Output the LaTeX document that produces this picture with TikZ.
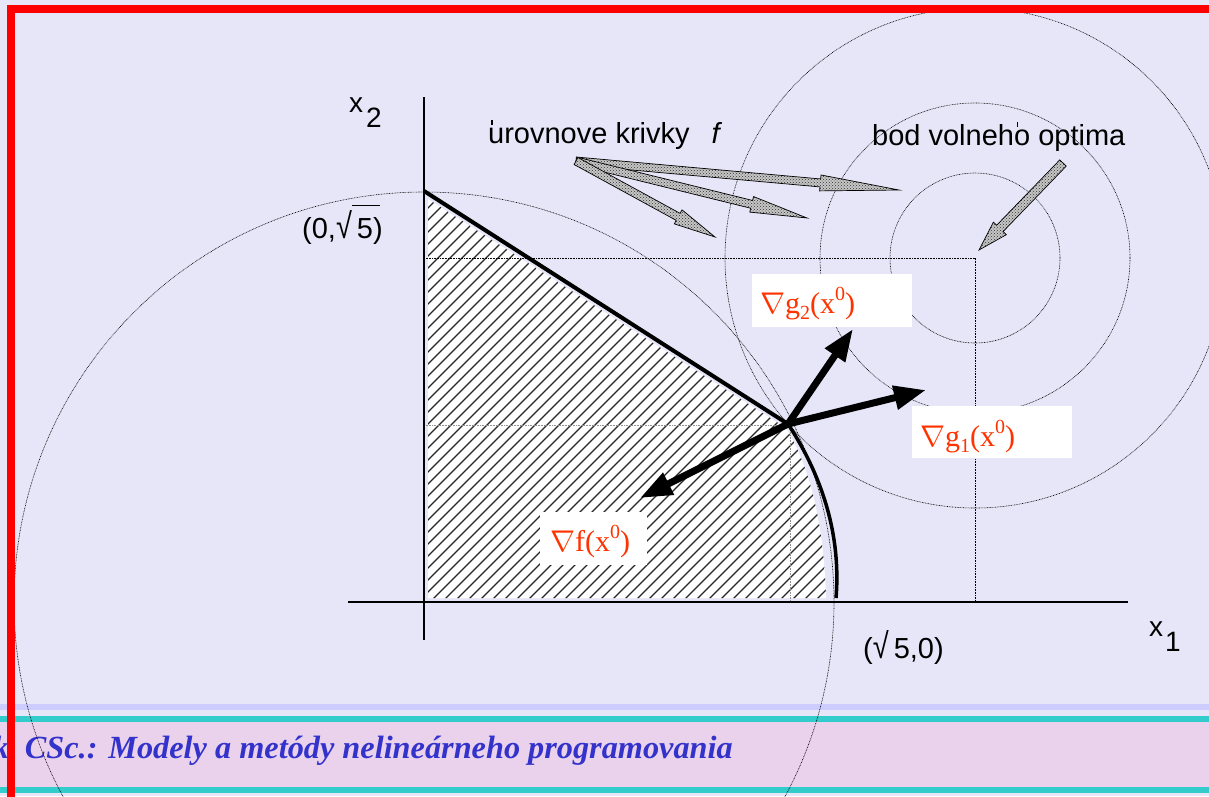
\documentclass[tikz,border=0pt]{standalone}
\usepackage{fix-cm}
\usepackage{fontspec}
\setmainfont{Liberation Sans}
\newfontfamily\tnr{Liberation Serif}
\usetikzlibrary{arrows.meta,patterns,calc}
\definecolor{bgc}{RGB}{230,230,248}
\definecolor{lblred}{RGB}{255,51,0}
\definecolor{bandlight}{RGB}{204,204,255}
\definecolor{tealband}{RGB}{51,204,204}
\definecolor{pinkband}{RGB}{235,210,236}
\definecolor{bannerblue}{RGB}{51,51,204}
\tikzset{
  levelcurve/.style={draw=black, line width=0.6pt, dash pattern=on 0.8pt off 0.8pt},
  guide/.style={draw=black, line width=0.6pt, dash pattern=on 0.8pt off 0.8pt},
  guidegray/.style={draw=black!45, line width=0.6pt, dash pattern=on 0.8pt off 0.8pt},
  axisline/.style={draw=black, line width=2pt},
  gradarrow/.style={draw=black, line width=7pt, -{Triangle[length=32pt,width=23pt]}},
  hatchline/.style={draw=black!85, line width=1.3pt},
  lbl/.style={inner sep=0pt, anchor=base west, font=\fontsize{29}{34}\selectfont},
  axlbl/.style={inner sep=0pt, anchor=base west, font=\fontsize{28}{32}\selectfont},
  whitebox/.style={fill=white, draw=none, inner sep=0pt, anchor=north west},
  redlbl/.style={inner sep=0pt, anchor=base west, text=lblred, font=\fontsize{30}{34}\selectfont\tnr},
  bannertext/.style={inner sep=0pt, anchor=base east, text=bannerblue, font=\fontsize{32.3}{36}\selectfont\tnr\bfseries\itshape},
  blockarrow/.style={draw=black, line width=0.7pt, preaction={fill=gray!45}, pattern=crosshatch dots, pattern color=black!80},
}
\newcommand{\blockarr}[5]{%
  \pgfpointdiff{\pgfpointanchor{#1}{center}}{\pgfpointanchor{#2}{center}}%
  \pgfgetlastxy{\bax}{\bay}%
  \pgfmathsetmacro{\balen}{veclen(\bax,\bay)}%
  \pgfmathsetmacro{\baang}{atan2(\bay,\bax)}%
  \draw[blockarrow, shift={(#1)}, rotate=\baang]
    (0pt,#3) -- ({\balen pt-#5},#3) -- ({\balen pt-#5},#4) -- ({\balen pt},0pt)
    -- ({\balen pt-#5},-#4) -- ({\balen pt-#5},-#3) -- (0pt,-#3) -- cycle;
}
\newcommand{\radic}{\scalebox{1}[1.22]{√}}
\newcommand{\rtfivebar}{\radic\makebox[0pt][l]{\raisebox{1.1em}{\rule{0.95em}{1.2pt}}}\kern5pt 5}
\newcommand{\rtfive}{\radic\kern5pt 5}
\newcommand{\tick}{\rlap{\kern0.1em\rule[0.62em]{0.05em}{0.16em}}}
\newcommand{\subsz}[1]{\raisebox{-0.22em}{\fontsize{20}{22}\selectfont #1}}
\newcommand{\supsz}[1]{\raisebox{0.42em}{\fontsize{20}{22}\selectfont #1}}

\begin{document}
\begin{tikzpicture}[x=1pt,y=-1pt]
\useasboundingbox (0,0) rectangle (1209,796);
\clip (0,0) rectangle (1209,796);
\fill[bgc] (0,0) rectangle (1209,796);
% footer bands
\fill[bandlight] (0,704) rectangle (1209,710);
\fill[tealband] (0,716) rectangle (1209,722);
\fill[pinkband] (0,722) rectangle (1209,787);
\fill[tealband] (0,787) rectangle (1209,793);
\node[bannertext] (banner) at (733,758) {k, CSc.: Modely a metódy nelineárneho programovania};

% key points
\coordinate (O) at (424,602);
\coordinate (P0) at (424,191);
\coordinate (x0) at (788,424);
\coordinate (opt) at (975,258);
\coordinate (g2tip) at (853,329);
\coordinate (g1tip) at (926,390);
\coordinate (ftip) at (640,498);
\coordinate (bcEnd) at (836,598);

% hatched feasible region
\fill[white] (428,199) -- (786,428) .. controls (812,470) and (824,530) .. (826,598) -- (428,598) -- cycle;
\begin{scope}
  \clip (428,199) -- (786,428) .. controls (812,470) and (824,530) .. (826,598) -- (428,598) -- cycle;
  \foreach \i in {24,36,...,1000} \draw[hatchline] (\i,600) -- (\i+400,200);
\end{scope}

% guide lines
\coordinate (gA) at (424,425);
\coordinate (gB) at (790,425);
\coordinate (gC) at (790,600);
\coordinate (gD) at (424,258);
\coordinate (gE) at (975,600);
\draw[guidegray] (gA) -- (gB) -- (gC);
\draw[guide] (gD) -- (opt) -- (gE);

% circles
\draw[levelcurve] (O) circle[radius=410pt];
\draw[levelcurve] (opt) circle[radius=85pt];
\draw[levelcurve] (opt) circle[radius=155pt];
\draw[levelcurve] (opt) circle[radius=250pt];

% axes
\coordinate (ax2a) at (424,97);
\coordinate (ax2b) at (424,640);
\coordinate (ax1a) at (348,602);
\coordinate (ax1b) at (1128,602);
\draw[axisline] (ax2a) -- (ax2b);
\draw[axisline] (ax1a) -- (ax1b);

% constraint boundaries
\draw[line width=4pt] (P0) -- (x0);
\draw[line width=3.5pt] (x0) .. controls (815,465) and (842,525) .. (bcEnd);

% gradients
\draw[gradarrow] (x0) -- (g2tip);
\draw[gradarrow] (x0) -- (g1tip);
\draw[gradarrow] (x0) -- (ftip);

% block arrows
\coordinate (ukS) at (576,161);
\coordinate (uk1) at (899,190);
\coordinate (uk2) at (807,218);
\coordinate (uk3) at (715,237);
\blockarr{ukS}{uk1}{4pt}{8pt}{79pt}
\blockarr{ukS}{uk2}{4pt}{8pt}{57pt}
\blockarr{ukS}{uk3}{4pt}{8pt}{42pt}
\coordinate (bS) at (1063,163);
\coordinate (bT) at (979,250);
\blockarr{bS}{bT}{4.5pt}{9pt}{30pt}

% texts
\node[axlbl] (tx2) at (349,112) {x\hspace{3pt}\raisebox{-15pt}{2}};
\node[axlbl] (tx1) at (1149,636) {x\hspace{2pt}\raisebox{-15pt}{1}};
\node[lbl] (turov) at (488,143) {\tick urovnove krivky\hspace{22pt}\textit{f}};
\node[lbl] (tbod) at (872,145) {bod volneh\tick o optima};
\node[lbl] (tp0) at (302,238) {(0,\rtfivebar)};
\node[lbl] (tp1) at (863,658) {(\rtfive,0)};

% gradient labels
\node[whitebox, minimum width=160pt, minimum height=53pt] (bxg2) at (752,274) {};
\node[whitebox, minimum width=160pt, minimum height=52pt] (bxg1) at (912,406) {};
\node[whitebox, minimum width=107pt, minimum height=53pt] (bxf) at (540,512) {};
\node[redlbl] (tg2) at (760,313) {$\nabla$g\subsz{2}(x\supsz{0})};
\node[redlbl] (tg1) at (920,446) {$\nabla$g\subsz{1}(x\supsz{0})};
\node[redlbl] (tf) at (550,551) {$\nabla$f(x\supsz{0})};

% red frame
\coordinate (rfA) at (11,800);
\coordinate (rfB) at (11,9);
\coordinate (rfC) at (1215,9);
\draw[red, line width=8pt] (rfA) -- (rfB) -- (rfC);
\end{tikzpicture}
\end{document}
